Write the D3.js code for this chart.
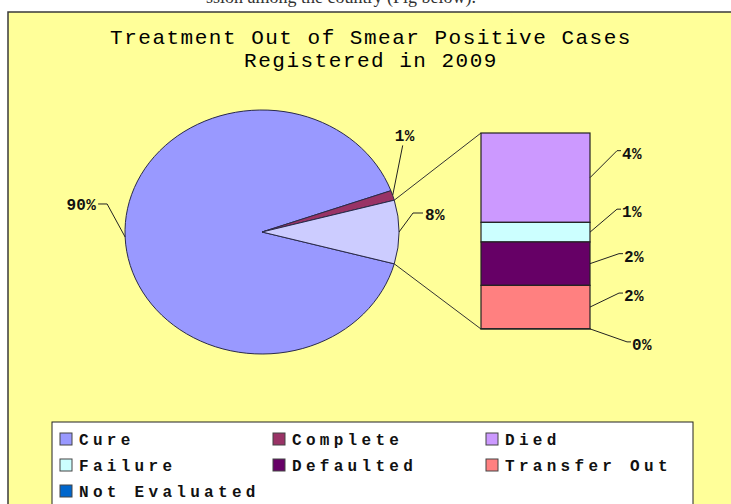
<!DOCTYPE html>
<html>
<head>
<meta charset="utf-8">
<script src="https://cdn.jsdelivr.net/npm/d3@7"></script>
<style>
  body { margin: 0; background: #fff; }
  svg { display: block; }
</style>
</head>
<body>
<svg id="chart" width="731" height="504"></svg>
<script>

// main pie values (percent), the last one is the "other" slice broken out in the bar
var mainCategories = ["Cure", "Complete"];
var mainValues = [90.3, 1.3];

// breakdown of the other slice
var subCategories = ["Died", "Failure", "Defaulted", "Transfer Out", "Not Evaluated"];
var subValues = [3.83, 0.84, 1.86, 1.86, 0.01];

var legendLabels = ["Cure", "Complete", "Died", "Failure", "Defaulted", "Transfer Out", "Not Evaluated"];

var titleLines = ["Treatment Out of Smear Positive Cases", "Registered in 2009"];

// excel 2003 palette
var colors = {
  "Cure": "#9999FF", "Complete": "#993366", "Other": "#CCCCFF",
  "Died": "#CC99FF", "Failure": "#CCFFFF", "Defaulted": "#660066",
  "Transfer Out": "#FF8080", "Not Evaluated": "#0066CC"
};

// label leader offsets (layout only)
var pieLabelOffsets = { "Cure": [-18, -33, -9], "Complete": [10, -50, 0], "Other": [14, -19, 10] };
var barLabelOffsets = [[27, -27], [27, -23], [29, -10], [29, -14], [37, 13]];

var svg = d3.select("#chart");
var labelFont = "'Liberation Mono', 'Courier New', monospace";

// bit of the document text cut off at the top
svg.append("text")
    .attr("x", 476).attr("y", 3)
    .attr("text-anchor", "end")
    .attr("font-family", "'Liberation Serif', serif")
    .attr("font-size", 18)
    .attr("fill", "#333")
    .text("ssion among the country (Fig below).");

// chart area
svg.append("rect")
    .attr("x", 8).attr("y", 12)
    .attr("width", 740).attr("height", 510)
    .attr("fill", "#FFFF99")
    .attr("stroke", "#3a3a3a")
    .attr("stroke-width", 1.5);

var title = svg.append("text")
    .attr("text-anchor", "middle")
    .attr("font-family", labelFont)
    .attr("font-size", 21)
    .attr("letter-spacing", 1.5)
    .attr("fill", "#000");
title.selectAll("tspan").data(titleLines).enter().append("tspan")
    .attr("x", 371)
    .attr("y", function(d, i) { return 44 + i * 23; })
    .text(function(d) { return d; });

// pie
var otherTotal = d3.sum(subValues);
var pieData = mainCategories.map(function(c, i) { return { name: c, value: mainValues[i] }; });
pieData.push({ name: "Other", value: otherTotal });

var cx = 262, cy = 232, rx = 137, ry = 122;
var otherAngle = 2 * Math.PI * otherTotal / d3.sum(pieData, function(d) { return d.value; });
var startA = Math.PI / 2 + otherAngle / 2;

var pie = d3.pie()
    .sort(null)
    .value(function(d) { return d.value; })
    .startAngle(startA)
    .endAngle(startA + 2 * Math.PI);

var arcs = pie(pieData);
var arc = d3.arc().innerRadius(0).outerRadius(ry);

var pieG = svg.append("g")
    .attr("transform", "translate(" + cx + "," + cy + ") scale(" + (rx / ry) + ",1)");

pieG.selectAll("path").data(arcs).enter().append("path")
    .attr("d", arc)
    .attr("fill", function(d) { return colors[d.data.name]; })
    .attr("stroke", "#2a2a4a")
    .attr("stroke-width", 1)
    .attr("vector-effect", "non-scaling-stroke");

function edgePoint(a) {
  return [cx + rx * Math.sin(a), cy - ry * Math.cos(a)];
}

// bar of the other slice
var barX0 = 481, barX1 = 590;
var barY = d3.scaleLinear().domain([0, otherTotal]).range([133, 329]);
var cum = 0;
var barData = subCategories.map(function(c, i) {
  var d = { name: c, value: subValues[i], y0: cum, y1: cum + subValues[i] };
  cum += subValues[i];
  return d;
});

// connector lines from other slice to bar corners
var otherArc = arcs[arcs.length - 1];
var pTop = edgePoint(otherArc.startAngle);
var pBot = edgePoint(otherArc.endAngle);
svg.append("line")
    .attr("x1", pTop[0]).attr("y1", pTop[1])
    .attr("x2", barX0).attr("y2", barY(0))
    .attr("stroke", "#333").attr("stroke-width", 1);
svg.append("line")
    .attr("x1", pBot[0]).attr("y1", pBot[1])
    .attr("x2", barX0).attr("y2", barY(otherTotal))
    .attr("stroke", "#333").attr("stroke-width", 1);

svg.selectAll("rect.seg").data(barData).enter().append("rect")
    .attr("class", "seg")
    .attr("x", barX0)
    .attr("y", function(d) { return barY(d.y0); })
    .attr("width", barX1 - barX0)
    .attr("height", function(d) { return barY(d.y1) - barY(d.y0); })
    .attr("fill", function(d) { return colors[d.name]; })
    .attr("stroke", "#222")
    .attr("stroke-width", 1.2);

// pie labels
arcs.forEach(function(d) {
  var mid = (d.startAngle + d.endAngle) / 2;
  var p = edgePoint(mid);
  var off = pieLabelOffsets[d.data.name];
  var ex = p[0] + off[0], ey = p[1] + off[1];
  var hx = ex + off[2];
  svg.append("polyline")
      .attr("points", [p, [ex, ey], [hx, ey]].map(function(q) { return q.join(","); }).join(" "))
      .attr("fill", "none")
      .attr("stroke", "#222")
      .attr("stroke-width", 1);
  var t = svg.append("text")
      .attr("font-family", labelFont)
      .attr("font-weight", "bold")
      .attr("font-size", 16)
      .attr("letter-spacing", 0.3)
      .attr("fill", "#111")
      .text(Math.round(d.data.value) + "%");
  if (off[2] < 0) {
    t.attr("x", hx - 2).attr("y", ey + 6).attr("text-anchor", "end");
  } else if (off[2] > 0) {
    t.attr("x", hx + 2).attr("y", ey + 7).attr("text-anchor", "start");
  } else {
    t.attr("x", ex + 2).attr("y", ey - 4).attr("text-anchor", "middle");
  }
});

// bar labels
barData.forEach(function(d, i) {
  var my = (barY(d.y0) + barY(d.y1)) / 2;
  var off = barLabelOffsets[i];
  var ex = barX1 + off[0], ey = my + off[1];
  svg.append("polyline")
      .attr("points", [[barX1, my], [ex, ey], [ex + 4, ey]].map(function(q) { return q.join(","); }).join(" "))
      .attr("fill", "none")
      .attr("stroke", "#222")
      .attr("stroke-width", 1);
  svg.append("text")
      .attr("x", ex + 5)
      .attr("y", ey + 8)
      .attr("font-family", labelFont)
      .attr("font-weight", "bold")
      .attr("font-size", 16)
      .attr("letter-spacing", 0.3)
      .attr("fill", "#111")
      .text(Math.round(d.value) + "%");
});

// legend
var legend = svg.append("g");
legend.append("rect")
    .attr("x", 52).attr("y", 422)
    .attr("width", 641).attr("height", 100)
    .attr("fill", "#fff")
    .attr("stroke", "#222")
    .attr("stroke-width", 1);

var colX = [60, 273, 486];
var items = legend.selectAll("g.item").data(legendLabels).enter().append("g")
    .attr("class", "item")
    .attr("transform", function(d, i) {
      return "translate(" + colX[i % 3] + "," + (439 + Math.floor(i / 3) * 26) + ")";
    });
items.append("rect")
    .attr("x", 0).attr("y", -6)
    .attr("width", 12).attr("height", 12)
    .attr("fill", function(d) { return colors[d]; })
    .attr("stroke", "#444")
    .attr("stroke-width", 1);
items.append("text")
    .attr("x", 19).attr("y", 5.5)
    .attr("font-family", labelFont)
    .attr("font-weight", "bold")
    .attr("font-size", 16)
    .attr("letter-spacing", 4.3)
    .attr("fill", "#111")
    .text(function(d) { return d; });

</script>
</body>
</html>
